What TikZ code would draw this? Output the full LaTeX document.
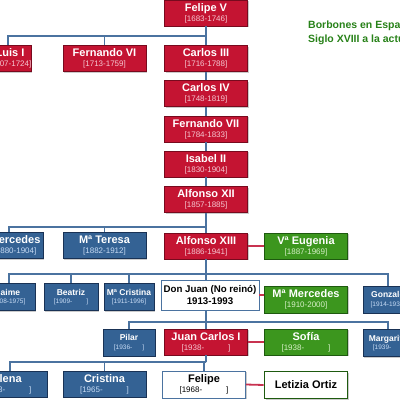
\documentclass[tikz,border=0pt]{standalone}
\usepackage{fontspec}
\setmainfont{Liberation Sans}
\usetikzlibrary{shadows}
\definecolor{rd}{RGB}{196,20,50}
\definecolor{rdb}{RGB}{120,10,30}
\definecolor{bl}{RGB}{52,98,148}
\definecolor{blb}{RGB}{25,50,85}
\definecolor{gr}{RGB}{60,150,30}
\definecolor{grb}{RGB}{30,90,15}
\definecolor{ln}{RGB}{75,115,160}
\definecolor{lk}{RGB}{200,50,80}
\definecolor{tt}{RGB}{40,130,25}
\definecolor{rdt}{RGB}{245,200,210}
\definecolor{blt}{RGB}{200,220,245}
\definecolor{grt}{RGB}{215,240,200}
\newcommand\redtx[2]{{\fontsize{11}{10}\selectfont\bfseries #1}\\{\color{rdt}#2}}
\newcommand\bluetx[2]{{\fontsize{11}{10}\selectfont\bfseries #1}\\{\color{blt}#2}}
\newcommand\greentx[2]{{\fontsize{11}{10}\selectfont\bfseries #1}\\{\color{grt}#2}}
\newcommand\smalltx[2]{{\fontsize{8.5}{8}\selectfont\bfseries #1}\\{\color{blt}#2}}
\newcommand\whitetx[2]{{\fontsize{11}{10}\selectfont\bfseries #1}\\{#2}}
\tikzset{
  box/.style={rectangle, draw, line width=0.9pt, inner sep=0pt, align=center, text=white,
    drop shadow={shadow xshift=1pt, shadow yshift=-1pt, fill=black!40, opacity=0.5}},
  big/.style={box, minimum width=83pt, minimum height=26pt, font=\fontsize{8}{10}\selectfont},
  small/.style={box, minimum height=27pt, font=\fontsize{6.5}{8.5}\selectfont},
  redbox/.style={fill=rd, draw=rdb},
  bluebox/.style={fill=bl, draw=blb},
  greenbox/.style={fill=gr, draw=grb},
  conn/.style={draw=ln, line width=1.1pt},
  marriage/.style={draw=lk, line width=1.8pt}
}
\begin{document}
\begin{tikzpicture}[x=1pt,y=-1pt]
\useasboundingbox (0,0) rectangle (400,400);
\fill[white] (0,0) rectangle (400,400);
\clip (0,0) rectangle (400,400);
% coordinates
\coordinate (j1) at (206,36);
\coordinate (j2) at (206,227);
\coordinate (j3) at (206,274);
\coordinate (j4) at (206,322);
\coordinate (j5) at (206,362);
% nodes
\node[big,redbox] (felipeV) at (206,13) {\redtx{Felipe V}{[1683-1746]}};
\node[big,redbox,minimum width=42pt] (luisI) at (10,58.5) {\redtx{Luis I}{[1707-1724]}};
\node[big,redbox] (fernandoVI) at (104.5,58.5) {\redtx{Fernando VI}{[1713-1759]}};
\node[big,redbox] (carlosIII) at (206,58.5) {\redtx{Carlos III}{[1716-1788]}};
\node[big,redbox] (carlosIV) at (206,93.5) {\redtx{Carlos IV}{[1748-1819]}};
\node[big,redbox] (fernandoVII) at (206,129) {\redtx{Fernando VII}{[1784-1833]}};
\node[big,redbox] (isabelII) at (206,164) {\redtx{Isabel II}{[1830-1904]}};
\node[big,redbox] (alfonsoXII) at (206,199.5) {\redtx{Alfonso XII}{[1857-1885]}};
\node[big,bluebox,minimum width=56pt] (mercedes) at (15,245.5) {\bluetx{Mercedes}{[1880-1904]}};
\node[big,bluebox] (mteresa) at (104.5,245.5) {\bluetx{Mª Teresa}{[1882-1912]}};
\node[big,redbox] (alfonsoXIII) at (206,246) {\redtx{Alfonso XIII}{[1886-1941]}};
\node[big,greenbox] (eugenia) at (306,246) {\greentx{Vª Eugenia}{[1887-1969]}};
\node[small,bluebox,minimum width=54pt] (jaime) at (8,297) {\smalltx{Jaime}{[1908-1975]}};
\node[small,bluebox,minimum width=54pt] (beatriz) at (71,297) {\smalltx{Beatriz}{[1909-\hspace{14pt}]}};
\node[small,bluebox,minimum width=50pt] (mcristina) at (129,297) {\smalltx{Mª Cristina}{[1911-1996]}};
\node[box,fill=white,draw=ln,line width=0.7pt,minimum width=98pt,minimum height=30pt,text=black,
  font=\fontsize{9.7}{12}\selectfont\bfseries] (donjuan) at (210,295) {Don Juan (No reinó)\\1913-1993};
\node[big,greenbox,minimum height=27pt] (mmercedes) at (306,299.5) {\greentx{Mª Mercedes}{[1910-2000]}};
\node[small,bluebox,minimum width=50pt] (gonzalo) at (388,299.5) {\smalltx{Gonzalo}{[1914-1934]}};
\node[small,bluebox,minimum width=52pt] (pilar) at (129,342.5) {\smalltx{Pilar}{[1936-\hspace{10pt}]}};
\node[big,redbox] (juancarlos) at (206,342) {\redtx{Juan Carlos I}{[1938-\hspace{24pt}]}};
\node[big,greenbox] (sofia) at (306,342) {\greentx{Sofía}{[1938-\hspace{24pt}]}};
\node[small,bluebox,minimum width=50pt] (margarita) at (388,343) {\smalltx{Margarita}{[1939-\hspace{10pt}]}};
\node[big,bluebox,minimum width=80pt] (elena) at (7,384) {\bluetx{Elena}{[1963-\hspace{24pt}]}};
\node[big,bluebox] (cristina) at (104.5,384) {\bluetx{Cristina}{[1965-\hspace{24pt}]}};
\node[big,fill=white,draw=ln,line width=0.7pt,text=black,minimum height=27pt] (felipe) at (204,384.5) {\whitetx{Felipe}{[1968-\hspace{24pt}]}};
\node[big,fill=white,draw=grb,line width=1.8pt,text=black,minimum height=27pt,
  font=\fontsize{11}{12}\selectfont\bfseries] (letizia) at (306,385) {\raisebox{-2pt}{Letizia Ortiz}};
\node[anchor=north west,inner sep=0pt,align=left,text=tt,font=\fontsize{10.5}{13.5}\selectfont\bfseries] (title) at (308,21)
  {Borbones en España\\Siglo XVIII a la actualidad};
% connectors
\draw[conn] (felipeV.south) -- (carlosIII.north);
\draw[conn] ([xshift=-2pt]luisI.north) |- (j1);
\draw[conn] (fernandoVI.north) -- (fernandoVI.north |- j1);
\draw[conn] (carlosIII.south) -- (carlosIV.north);
\draw[conn] (carlosIV.south) -- (fernandoVII.north);
\draw[conn] (fernandoVII.south) -- (isabelII.north);
\draw[conn] (isabelII.south) -- (alfonsoXII.north);
\draw[conn] (alfonsoXII.south) -- (alfonsoXIII.north);
\draw[conn] ([xshift=-6pt]mercedes.north) |- (j2);
\draw[conn] (mteresa.north) -- (mteresa.north |- j2);
\draw[conn] (alfonsoXIII.south) -- (j3);
\draw[conn] ([xshift=1pt]jaime.north) |- (j3) -| (gonzalo.north);
\draw[conn] (beatriz.north) -- (beatriz.north |- j3);
\draw[conn] (mcristina.north) -- (mcristina.north |- j3);
\draw[conn] (j3) -- (j3 |- donjuan.north);
\draw[conn] (j3 |- donjuan.south) -- (j4);
\draw[conn] (pilar.north) |- (j4) -| (margarita.north);
\draw[conn] (j4) -- (juancarlos.north);
\draw[conn] (juancarlos.south) -- (j5);
\draw[conn] ([xshift=3pt]elena.north) |- (j5) -| (felipe.north);
\draw[conn] (cristina.north) -- (cristina.north |- j5);
\draw[marriage] (alfonsoXIII.east) -- (eugenia.west);
\draw[marriage] (donjuan.east) -- (donjuan.east -| mmercedes.west);
\draw[marriage] (juancarlos.east) -- (sofia.west);
\draw[marriage] (felipe.east) -- (letizia.west);
\end{tikzpicture}
\end{document}
